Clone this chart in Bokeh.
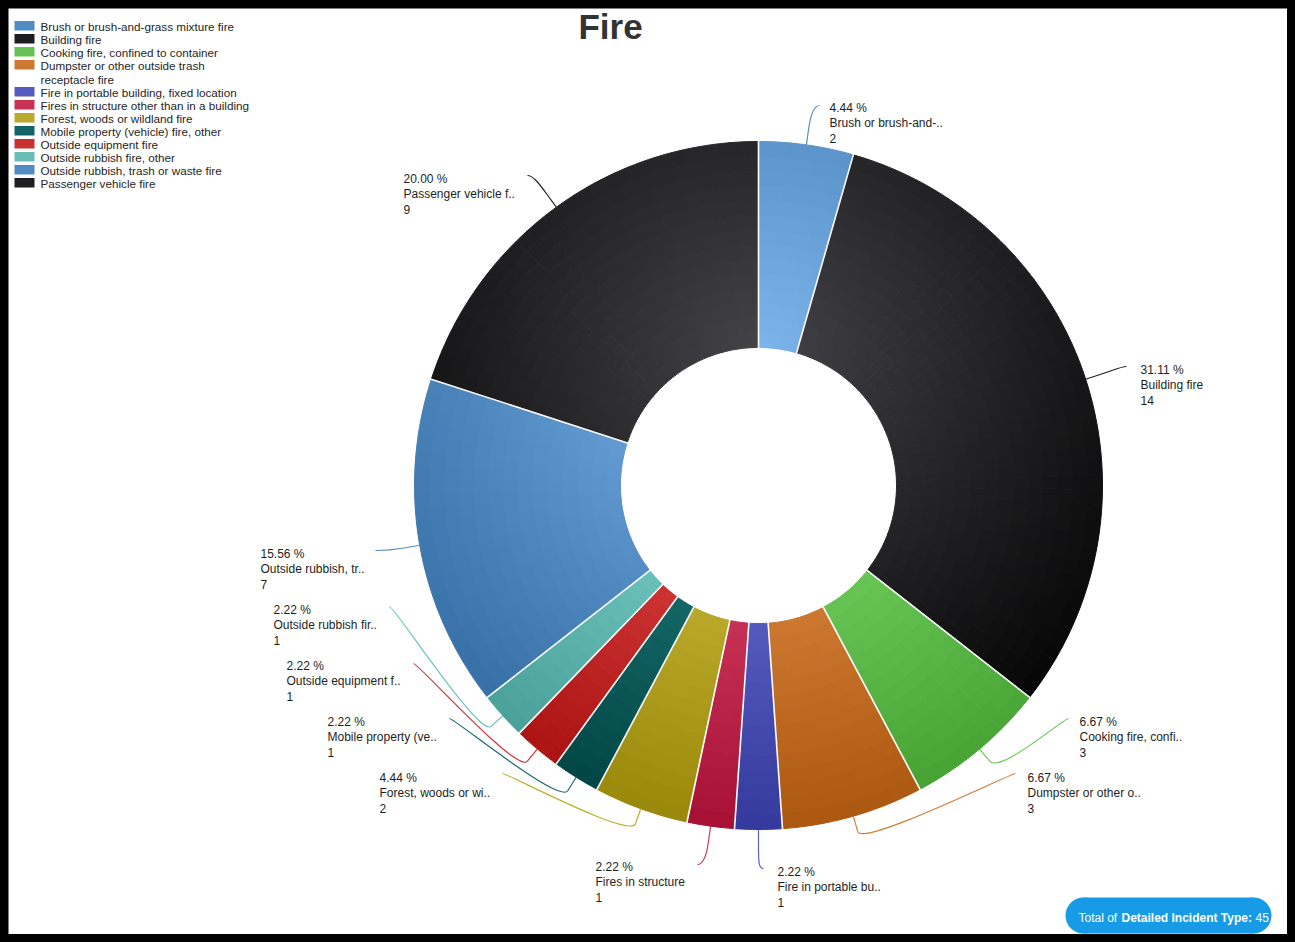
import math
import numpy as np
from bokeh.plotting import figure
from bokeh.models import Range1d, ColumnDataSource
from bokeh.core.properties import value
from bokeh.embed import file_html
from bokeh.resources import INLINE

# ---------------- data ----------------
title_text = "Fire"
categories = [
    "Brush or brush-and-grass mixture fire",
    "Building fire",
    "Cooking fire, confined to container",
    "Dumpster or other outside trash receptacle fire",
    "Fire in portable building, fixed location",
    "Fires in structure other than in a building",
    "Forest, woods or wildland fire",
    "Mobile property (vehicle) fire, other",
    "Outside equipment fire",
    "Outside rubbish fire, other",
    "Outside rubbish, trash or waste fire",
    "Passenger vehicle fire",
]
counts = [2, 14, 3, 3, 1, 1, 2, 1, 1, 1, 7, 9]
short_labels = [
    "Brush or brush-and-..",
    "Building fire",
    "Cooking fire, confi..",
    "Dumpster or other o..",
    "Fire in portable bu..",
    "Fires in structure",
    "Forest, woods or wi..",
    "Mobile property (ve..",
    "Outside equipment f..",
    "Outside rubbish fir..",
    "Outside rubbish, tr..",
    "Passenger vehicle f..",
]
total_caption = ["Total of ", "Detailed Incident Type:"]

# ---------------- style / layout ----------------
palette = ["#7cb5ec", "#434348", "#90ed7d", "#f7a35c", "#8085e9",
           "#f15c80", "#e4d354", "#2b908f", "#f45b5b", "#91e8e1"]
FONT = value("Liberation Sans")
W, H = 1279, 926


def px(X):
    return X - 8


def py(Y):
    return 934 - Y


CX, CY = px(758), py(485)
R_OUT, R_IN = 344, 138
GX, GY, GR = px(758), py(347), 482.0   # radial gradient centre / radius
NR = 14

# label layout (first line centre, reference pixels) and connector end points
label_pos = [(829, 107), (1140, 369), (1079, 721), (1027, 777), (777, 871), (595, 866),
             (379, 777), (327, 721), (286, 665), (273, 609), (260, 553), (403, 178)]
conn_end = [(819, 105), (1126, 366), (1068, 718), (1015, 773), (763, 868), (697, 864),
            (502, 773), (449, 718), (413, 663), (389, 606), (375, 550), (527, 175)]
legend_wrap = {"Dumpster or other outside trash receptacle fire":
               ["Dumpster or other outside trash", "receptacle fire"]}


def shade(hexc, t):
    t = min(max(t, 0.0), 1.0)
    rgb = [int(hexc[i:i + 2], 16) for i in (1, 3, 5)]
    dark = [max(0, v - 76) for v in rgb]
    return "#%02x%02x%02x" % tuple(int(round(a * (1 - t) + b * t)) for a, b in zip(rgb, dark))


p = figure(width=W, height=H, x_range=Range1d(0, W), y_range=Range1d(0, H),
           output_backend="svg", toolbar_location=None,
           x_axis_type=None, y_axis_type=None, min_border=0,
           background_fill_color="white", border_fill_color="white")
p.outline_line_color = None

# ---------------- donut with radial gradient (tiles) ----------------
T = sum(counts)
cum = np.concatenate([[0], np.cumsum(counts)])
ang = np.pi / 2 - 2 * np.pi * cum / T

tiles = dict(start=[], end=[], rin=[], rout=[], color=[])
redges = np.linspace(R_IN, R_OUT, NR + 1)
for i, c in enumerate(counts):
    hi, lo = ang[i], ang[i + 1]
    base = palette[i % len(palette)]
    na = max(2, int(math.ceil(math.degrees(hi - lo) / 2.5)))
    aedges = np.linspace(lo, hi, na + 1)
    for a0, a1 in zip(aedges[:-1], aedges[1:]):
        am = 0.5 * (a0 + a1)
        for q0, q1 in zip(redges[:-1], redges[1:]):
            rm = 0.5 * (q0 + q1)
            x = CX + rm * math.cos(am)
            y = CY + rm * math.sin(am)
            t = math.hypot(x - GX, y - GY) / GR
            tiles["start"].append(a0)
            tiles["end"].append(a1)
            tiles["rin"].append(q0)
            tiles["rout"].append(q1)
            tiles["color"].append(shade(base, t))

p.annular_wedge(x=CX, y=CY, inner_radius="rin", outer_radius="rout",
                start_angle="start", end_angle="end",
                fill_color="color", line_color="color", line_width=1,
                source=ColumnDataSource(tiles))

# white separators
sx0 = [CX + (R_IN - 1) * math.cos(a) for a in ang[:-1]]
sy0 = [CY + (R_IN - 1) * math.sin(a) for a in ang[:-1]]
sx1 = [CX + (R_OUT + 1) * math.cos(a) for a in ang[:-1]]
sy1 = [CY + (R_OUT + 1) * math.sin(a) for a in ang[:-1]]
p.segment(x0=sx0, y0=sy0, x1=sx1, y1=sy1, line_color="white", line_width=1.6)

# ---------------- connectors + data labels ----------------
bz = dict(x0=[], y0=[], x1=[], y1=[], cx0=[], cy0=[], cx1=[], cy1=[], col=[])
sg = dict(x0=[], y0=[], x1=[], y1=[], col=[])
lab = dict(x=[], y=[], text=[])
for i, c in enumerate(counts):
    m = 0.5 * (ang[i] + ang[i + 1])
    P0 = (CX + R_OUT * math.cos(m), CY + R_OUT * math.sin(m))
    B = (CX + (R_OUT + 16) * math.cos(m), CY + (R_OUT + 16) * math.sin(m))
    E = (px(conn_end[i][0]), py(conn_end[i][1]))
    right = E[0] > CX
    col = shade(palette[i % len(palette)], 0.5)
    bz["x0"].append(E[0]); bz["y0"].append(E[1])
    bz["cx0"].append(E[0] + (-5 if right else 5)); bz["cy0"].append(E[1])
    bz["cx1"].append(2 * B[0] - P0[0]); bz["cy1"].append(2 * B[1] - P0[1])
    bz["x1"].append(B[0]); bz["y1"].append(B[1])
    bz["col"].append(col)
    sg["x0"].append(B[0]); sg["y0"].append(B[1])
    sg["x1"].append(P0[0]); sg["y1"].append(P0[1])
    sg["col"].append(col)
    lx, ly = label_pos[i]
    lines = ["%.2f %%" % (100.0 * c / T), short_labels[i], str(c)]
    for k, s in enumerate(lines):
        lab["x"].append(px(lx))
        lab["y"].append(py(ly + 15.5 * k))
        lab["text"].append(s)

p.bezier(x0="x0", y0="y0", x1="x1", y1="y1", cx0="cx0", cy0="cy0", cx1="cx1", cy1="cy1",
         line_color="col", line_width=1.2, source=ColumnDataSource(bz))
p.segment(x0="x0", y0="y0", x1="x1", y1="y1", line_color="col", line_width=1.2,
          source=ColumnDataSource(sg))
p.text(x="x", y="y", text="text", source=ColumnDataSource(lab),
       text_font=FONT, text_font_size="12px", text_color="#1e1e1e",
       text_baseline="middle", text_align="left")

# ---------------- legend ----------------
leg_sw = dict(left=[], right=[], top=[], bottom=[], color=[])
leg_tx = dict(x=[], y=[], text=[])
yrow = 25.5
for i, name in enumerate(categories):
    leg_sw["left"].append(px(14)); leg_sw["right"].append(px(34))
    leg_sw["top"].append(py(yrow - 5)); leg_sw["bottom"].append(py(yrow + 4.5))
    leg_sw["color"].append(shade(palette[i % len(palette)], 0.55))
    parts = legend_wrap.get(name, [name])
    for k, s in enumerate(parts):
        leg_tx["x"].append(px(40))
        leg_tx["y"].append(py(yrow + 14.5 * k))
        leg_tx["text"].append(s)
    yrow += 13.0 + 14.0 * (len(parts) - 1)

p.quad(left="left", right="right", top="top", bottom="bottom", fill_color="color",
       line_color=None, source=ColumnDataSource(leg_sw))
p.text(x="x", y="y", text="text", source=ColumnDataSource(leg_tx),
       text_font=FONT, text_font_size="11.7px", text_color="#262626",
       text_baseline="middle", text_align="left")

# ---------------- title ----------------
p.text(x=[px(610)], y=[py(26)], text=[title_text], text_font=FONT,
       text_font_size="35px", text_font_style="bold", text_color="#333333",
       text_align="center", text_baseline="middle")

# ---------------- total badge ----------------
BADGE = "#189be6"
p.quad(left=[px(1083)], right=[px(1253)], top=[py(897)], bottom=[py(933)],
       fill_color=BADGE, line_color=None)
p.circle(x=[px(1083), px(1253)], y=[py(915), py(915)], radius=18,
         fill_color=BADGE, line_color=None)
p.text(x=[px(1078)], y=[py(917)], text=[total_caption[0]], text_font=FONT,
       text_font_size="12px", text_color="white", text_baseline="middle")
p.text(x=[px(1121)], y=[py(917)], text=[total_caption[1]], text_font=FONT,
       text_font_size="12px", text_font_style="bold", text_color="white",
       text_baseline="middle")
p.text(x=[px(1255)], y=[py(917)], text=["%d" % T], text_font=FONT,
       text_font_size="12px", text_color="white", text_baseline="middle")

html = file_html(p, INLINE, title="Fire")
html = html.replace(
    "</head>",
    "<style>html{background:#000 !important;}"
    "body{margin:8px !important;padding:0 !important;background:#000 !important;"
    "overflow:hidden !important;height:auto !important;}</style></head>", 1)
open("out.html", "w").write(html)
